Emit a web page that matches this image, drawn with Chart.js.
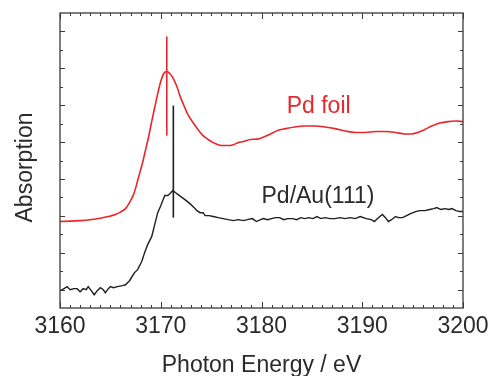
<!DOCTYPE html>
<html>
<head>
<meta charset="utf-8">
<script src="https://cdn.jsdelivr.net/npm/chart.js@4.4.1/dist/chart.umd.min.js"></script>
<style>
  html, body { margin: 0; padding: 0; background: #ffffff; }
  #wrap { width: 491px; height: 376px; position: relative; }
</style>
</head>
<body>
<div id="wrap"><canvas id="c" width="491" height="376"></canvas></div>
<script>
// ---- Data ----
const xTickLabels = [3160, 3170, 3180, 3190, 3200];

const pdFoilEnergy = [3160.0,3161.0,3162.0,3163.0,3164.0,3164.8,3165.5,3166.0,3166.5,3166.9,3167.3,3167.6,3167.9,3168.2,3168.5,3168.8,3169.1,3169.4,3169.7,3170.0,3170.3,3170.6,3170.9,3171.3,3171.6,3171.9,3172.3,3172.7,3173.2,3173.7,3174.2,3174.7,3175.2,3175.7,3176.2,3176.7,3177.2,3177.7,3178.2,3178.9,3179.6,3180.1,3180.8,3181.6,3182.4,3183.3,3184.3,3185.3,3186.3,3187.3,3188.3,3189.3,3190.3,3191.3,3192.3,3193.3,3194.2,3194.9,3195.5,3196.2,3196.9,3197.7,3198.5,3199.3,3200.0];
const pdFoilAbs = [4.69,4.71,4.74,4.79,4.87,4.96,5.07,5.20,5.39,5.72,6.15,6.69,7.29,7.89,8.59,9.30,10.11,10.87,11.63,12.29,12.72,12.83,12.72,12.39,12.01,11.52,10.98,10.49,10.06,9.68,9.35,9.14,8.97,8.86,8.81,8.81,8.86,8.97,9.03,9.14,9.16,9.25,9.41,9.63,9.73,9.82,9.87,9.87,9.82,9.73,9.60,9.52,9.52,9.57,9.57,9.52,9.44,9.44,9.52,9.68,9.87,10.03,10.11,10.14,10.11];

const pdAuEnergy = [3160.0,3160.4,3160.7,3161.0,3161.4,3161.7,3162.0,3162.3,3162.6,3162.8,3163.1,3163.4,3163.7,3164.0,3164.3,3164.5,3164.8,3165.0,3165.3,3165.7,3166.2,3166.5,3166.9,3167.4,3167.7,3168.1,3168.4,3168.7,3169.1,3169.4,3169.7,3170.0,3170.4,3170.7,3170.9,3171.2,3171.6,3172.0,3172.4,3172.9,3173.3,3173.6,3173.9,3174.2,3174.4,3174.8,3175.2,3175.7,3176.2,3176.7,3177.2,3177.7,3178.2,3178.6,3179.1,3179.5,3179.9,3180.2,3180.6,3181.0,3181.4,3181.8,3182.2,3182.6,3183.1,3183.5,3183.9,3184.3,3184.7,3185.1,3185.5,3185.9,3186.3,3186.8,3187.3,3187.8,3188.3,3188.8,3189.3,3189.8,3190.4,3190.9,3191.2,3191.6,3192.0,3192.3,3192.6,3192.9,3193.3,3193.6,3194.0,3194.4,3194.8,3195.3,3195.7,3196.2,3196.7,3197.1,3197.4,3197.8,3198.2,3198.6,3198.9,3199.3,3199.7,3200.0];
const pdAuAbs = [0.94,1.05,1.16,0.99,1.05,1.05,0.88,1.05,0.99,1.16,0.94,0.72,0.94,1.10,0.99,0.83,1.05,1.16,1.10,1.16,1.21,1.26,1.48,1.92,2.08,2.51,3.00,3.44,3.87,4.52,5.17,5.55,6.10,6.10,6.20,6.37,6.20,6.04,5.88,5.66,5.45,5.28,5.17,5.17,5.01,5.01,4.96,4.90,4.85,4.79,4.74,4.79,4.74,4.79,4.85,4.69,4.79,4.85,4.79,4.85,4.90,4.90,4.79,4.85,4.85,4.79,4.90,4.85,4.90,4.85,4.96,4.85,4.90,4.85,4.85,4.90,4.85,4.90,4.85,4.96,4.85,4.79,4.69,4.90,5.07,4.90,4.69,4.79,4.96,4.90,4.90,5.01,5.12,5.23,5.28,5.28,5.34,5.39,5.45,5.34,5.39,5.34,5.39,5.28,5.23,5.23];

// edge-position markers (vertical bars)
const pdFoilMarkerEnergy = [3170.6, 3170.6];
const pdFoilMarkerAbs = [9.35, 14.73];
const pdAuMarkerEnergy = [3171.25, 3171.25];
const pdAuMarkerAbs = [4.90, 10.98];

const seriesLabels = ['Pd foil', 'Pd/Au(111)'];
const xTitle = 'Photon Energy / eV';
const yTitle = 'Absorption';

// ---- Helpers ----
const RED = '#e8262c';
const BLACK = '#1e1e1e';
const AXIS = '#3a3a3a';
const TEXT = '#2a2a2a';
const FONT = '"Liberation Sans", Arial, Helvetica, sans-serif';
const pts = (xs, ys) => xs.map((x, i) => ({ x: x, y: ys[i] }));

const framePlugin = {
  id: 'frameTicks',
  afterDraw(chart) {
    const { ctx, chartArea: a, scales } = chart;
    const xs = scales.x, ys = scales.y;
    ctx.save();
    ctx.strokeStyle = AXIS;
    ctx.lineWidth = 1.3;
    ctx.strokeRect(a.left, a.top, a.right - a.left, a.bottom - a.top);
    ctx.lineWidth = 1;
    ctx.beginPath();
    for (let v = 3160; v <= 3200; v++) {
      const px = Math.round(xs.getPixelForValue(v)) + 0.5;
      const len = (v % 10 === 0) ? 6 : 3;
      ctx.moveTo(px, a.bottom); ctx.lineTo(px, a.bottom - len);
      ctx.moveTo(px, a.top); ctx.lineTo(px, a.top + len);
    }
    for (let v = 1; v <= 15; v++) {
      const py = Math.round(ys.getPixelForValue(v)) + 0.5;
      const len = (v % 2 === 1) ? 5 : 3;
      ctx.moveTo(a.left, py); ctx.lineTo(a.left + len, py);
      ctx.moveTo(a.right, py); ctx.lineTo(a.right - len, py);
    }
    ctx.stroke();

    // series labels
    ctx.font = '23px ' + FONT;
    ctx.textBaseline = 'alphabetic';
    ctx.textAlign = 'left';
    ctx.fillStyle = RED;
    ctx.fillText(seriesLabels[0], xs.getPixelForValue(3182.5), ys.getPixelForValue(10.6));
    ctx.fillStyle = TEXT;
    ctx.fillText(seriesLabels[1], xs.getPixelForValue(3180.0), ys.getPixelForValue(5.7));

    // axis titles
    ctx.textAlign = 'center';
    ctx.fillText(xTitle, (a.left + a.right) / 2, 372);
    ctx.save();
    ctx.translate(32, (a.top + a.bottom) / 2 + 7);
    ctx.rotate(-Math.PI / 2);
    ctx.fillText(yTitle, 0, 0);
    ctx.restore();
    ctx.restore();
  }
};

new Chart(document.getElementById('c'), {
  type: 'line',
  data: {
    datasets: [
      { label: seriesLabels[0], data: pts(pdFoilEnergy, pdFoilAbs), borderColor: RED, borderWidth: 1.6,
        pointRadius: 0, tension: 0.35, cubicInterpolationMode: 'monotone', fill: false },
      { label: seriesLabels[1], data: pts(pdAuEnergy, pdAuAbs), borderColor: BLACK, borderWidth: 1.4,
        pointRadius: 0, tension: 0, fill: false },
      { label: 'Pd foil edge', data: pts(pdFoilMarkerEnergy, pdFoilMarkerAbs), borderColor: RED, borderWidth: 1.6,
        pointRadius: 0, tension: 0, fill: false },
      { label: 'Pd/Au edge', data: pts(pdAuMarkerEnergy, pdAuMarkerAbs), borderColor: BLACK, borderWidth: 1.6,
        pointRadius: 0, tension: 0, fill: false }
    ]
  },
  options: {
    responsive: false,
    animation: false,
    events: [],
    layout: { padding: { left: 0, right: 28, top: 13, bottom: 0 } },
    plugins: { legend: { display: false }, tooltip: { enabled: false } },
    scales: {
      x: {
        type: 'linear', min: 3160, max: 3200,
        border: { display: false },
        grid: { display: false, drawTicks: false },
        afterBuildTicks(scale) { scale.ticks = xTickLabels.map(v => ({ value: v })); },
        afterFit(scale) { scale.height = 68; scale.paddingLeft = 0; scale.paddingRight = 0; },
        ticks: {
          autoSkip: false, maxRotation: 0, padding: 5,
          color: TEXT, font: { family: FONT, size: 23 },
          callback: v => String(v)
        }
      },
      y: {
        type: 'linear', min: 0, max: 16,
        border: { display: false },
        grid: { display: false, drawTicks: false },
        ticks: { display: false },
        afterFit(scale) { scale.width = 60; scale.paddingTop = 0; scale.paddingBottom = 0; }
      }
    }
  },
  plugins: [framePlugin]
});
</script>
</body>
</html>
